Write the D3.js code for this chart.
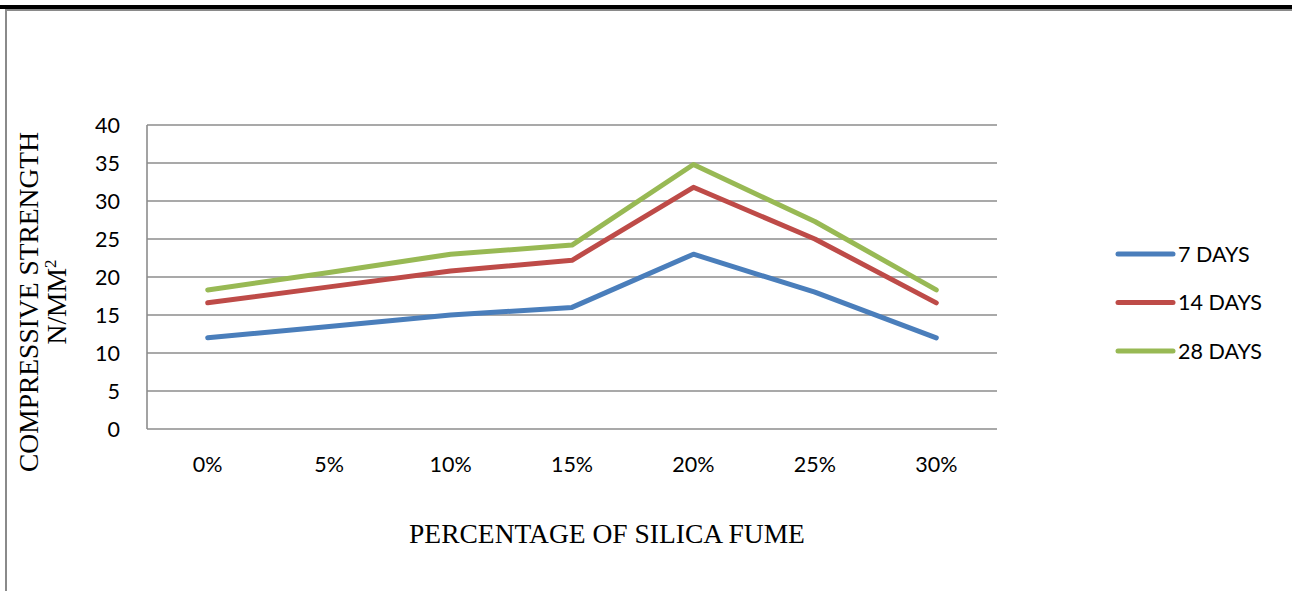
<!DOCTYPE html>
<html>
<head>
<meta charset="utf-8">
<script src="https://cdn.jsdelivr.net/npm/d3@7"></script>
<style>
  html, body { margin: 0; padding: 0; background: #fff; }
  svg { display: block; }
</style>
</head>
<body>
<svg id="chart" width="1292" height="591"></svg>
<script>
// Compressive strength by silica fume replacement
const categories = ["0%", "5%", "10%", "15%", "20%", "25%", "30%"];
const days7  = [12, 13.5, 15, 16, 23, 18, 12];
const days14 = [16.6, 18.7, 20.8, 22.2, 31.8, 25.0, 16.6];
const days28 = [18.3, 20.6, 23.0, 24.2, 34.8, 27.3, 18.3];
const seriesNames = ["7 DAYS", "14 DAYS", "28 DAYS"];
const seriesColors = ["#4a7ebb", "#be4b48", "#98b954"];
const yTicks = [0, 5, 10, 15, 20, 25, 30, 35, 40];

const seriesList = [days7, days14, days28].map((values, i) => ({
  name: seriesNames[i], color: seriesColors[i], values
}));

const svg = d3.select("#chart");
const W = 1292, H = 591;

// page frame: heavy rule on top, thin grey border below and on the left
svg.append("rect").attr("x", 0).attr("y", 5).attr("width", W).attr("height", 4).attr("fill", "#000");
svg.append("rect").attr("x", 5).attr("y", 9).attr("width", W - 5).attr("height", 2).attr("fill", "#8a8a8a");
svg.append("rect").attr("x", 5).attr("y", 9).attr("width", 2).attr("height", H - 9).attr("fill", "#8a8a8a");

const plot = { left: 147, right: 997, top: 125, bottom: 429 };

const x = d3.scaleBand().domain(categories).range([plot.left, plot.right]);
const y = d3.scaleLinear().domain([0, 40]).range([plot.bottom, plot.top]);

// horizontal gridlines
svg.append("g")
  .selectAll("line")
  .data(yTicks)
  .join("line")
  .attr("x1", plot.left).attr("x2", plot.right)
  .attr("y1", d => y(d)).attr("y2", d => y(d))
  .attr("stroke", "#8c8c8c").attr("stroke-width", 1.6);

// left axis line
svg.append("line")
  .attr("x1", plot.left).attr("x2", plot.left)
  .attr("y1", plot.top).attr("y2", plot.bottom)
  .attr("stroke", "#8c8c8c").attr("stroke-width", 1.6);

const tickFont = "Lato, 'Open Sans', sans-serif";
const tickSize = 21.5;

// y tick labels
const yAxis = d3.axisLeft(y).tickValues(yTicks).tickSize(0).tickPadding(0);
const gy = svg.append("g").attr("transform", `translate(${plot.left - 27},0)`).call(yAxis);
gy.select(".domain").remove();
gy.selectAll("text")
  .attr("font-family", tickFont).attr("font-size", tickSize).attr("fill", "#000")
  .attr("dy", "0.35em");

// x tick labels
const xAxis = d3.axisBottom(x).tickSize(0).tickPadding(0);
const gx = svg.append("g").attr("transform", `translate(0,${plot.bottom + 43})`).call(xAxis);
gx.select(".domain").remove();
gx.selectAll("text")
  .attr("font-family", tickFont).attr("font-size", tickSize).attr("fill", "#000")
  .attr("dy", 0);

// series lines
const line = d3.line()
  .x((d, i) => x(categories[i]) + x.bandwidth() / 2)
  .y(d => y(d));

svg.append("g")
  .selectAll("path")
  .data(seriesList)
  .join("path")
  .attr("d", d => line(d.values))
  .attr("fill", "none")
  .attr("stroke", d => d.color)
  .attr("stroke-width", 5)
  .attr("stroke-linejoin", "round")
  .attr("stroke-linecap", "round");

// legend
const legend = svg.append("g").attr("transform", "translate(1118,254)");
const items = legend.selectAll("g")
  .data(seriesList)
  .join("g")
  .attr("transform", (d, i) => `translate(0,${i * 48.5})`);
items.append("line")
  .attr("x1", 0).attr("x2", 55).attr("y1", 0).attr("y2", 0)
  .attr("stroke", d => d.color).attr("stroke-width", 5).attr("stroke-linecap", "round");
items.append("text")
  .attr("x", 60).attr("y", 0).attr("dy", "0.35em")
  .attr("font-family", tickFont).attr("font-size", tickSize).attr("fill", "#000")
  .text(d => d.name);

// axis titles
const serif = "'Liberation Serif', 'Times New Roman', serif";
svg.append("text")
  .attr("x", 607).attr("y", 543)
  .attr("text-anchor", "middle")
  .attr("font-family", serif).attr("font-size", 27.5).attr("fill", "#000")
  .text("PERCENTAGE OF SILICA FUME");

const yTitle = svg.append("g").attr("transform", "translate(0,302) rotate(-90)");
yTitle.append("text")
  .attr("x", 0).attr("y", 38)
  .attr("text-anchor", "middle")
  .attr("font-family", serif).attr("font-size", 27.5).attr("fill", "#000")
  .text("COMPRESSIVE STRENGTH");
const unit = yTitle.append("text")
  .attr("x", 0).attr("y", 66)
  .attr("text-anchor", "middle")
  .attr("font-family", serif).attr("font-size", 27.5).attr("fill", "#000");
unit.append("tspan").text("N/MM");
unit.append("tspan").attr("dy", -10).attr("font-size", 17).text("2");
</script>
</body>
</html>
